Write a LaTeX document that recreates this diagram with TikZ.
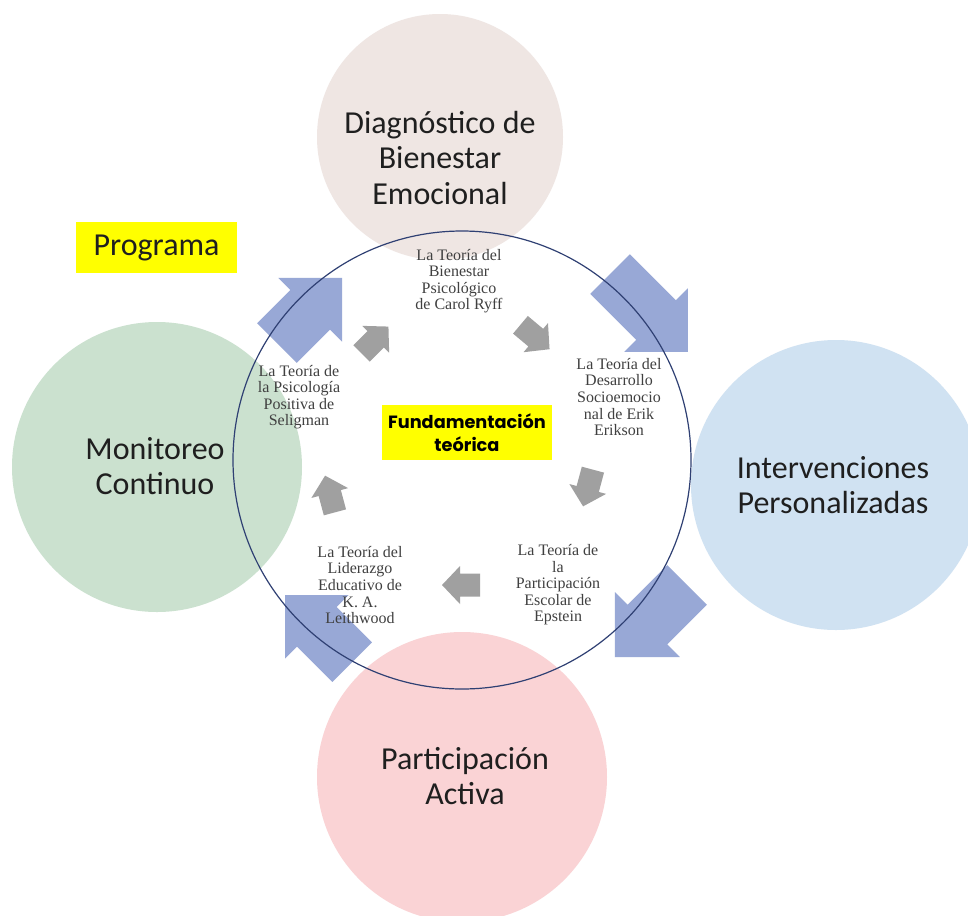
\documentclass[tikz,border=0pt]{standalone}
\usepackage{fontspec}
\setmainfont{Liberation Serif}
\newfontfamily\calib{Carlito}
\newfontfamily\gothic{Poppins}
\definecolor{beigeC}{RGB}{239,230,227}
\definecolor{greenC}{RGB}{203,225,207}
\definecolor{blueC}{RGB}{208,226,242}
\definecolor{pinkC}{RGB}{250,211,213}
\definecolor{arrBlue}{RGB}{152,168,214}
\definecolor{arrGray}{RGB}{160,160,160}
\definecolor{navyC}{RGB}{47,64,115}
\definecolor{yellowC}{RGB}{255,255,0}
% #1 x, #2 y, #3 direction (image degrees), #4 length, #5 head length, #6 head half width, #7 shaft half width, #8 fill
\newcommand\fatarrow[8]{%
  \begin{scope}[shift={(#1,#2)},rotate={-(#3)}]
    \fill[#8] ({-#4/2},{-#7}) -- ({#4/2-#5},{-#7}) -- ({#4/2-#5},{-#6}) -- ({#4/2},0)
      -- ({#4/2-#5},{#6}) -- ({#4/2-#5},{#7}) -- ({-#4/2},{#7}) -- cycle;
  \end{scope}}
\begin{document}
\begin{tikzpicture}[x=0.75pt,y=-0.75pt,
  disc/.style={circle,inner sep=0pt,minimum size=217.5pt},
  mainlbl/.style={font=\calib\fontsize{24}{26.8}\selectfont,text=black!88,align=center},
  theory/.style={font=\fontsize{12}{12.4}\selectfont,text=black!75,align=center},
  ybox/.style={fill=yellowC,inner sep=0pt}]
\useasboundingbox (0,0) rectangle (968,915);
\fill[white] (0,0) rectangle (968,915);
% coloured circles
\node[disc,fill=beigeC,minimum size=184.5pt] (cdiag) at (440,137) {};
\node[disc,fill=greenC] (cmon) at (157,467) {};
\node[disc,fill=blueC] (cint) at (836,485) {};
\node[disc,fill=pinkC] (cpar) at (462,777) {};
% big blue arrows
\fatarrow{309.5}{310.5}{-45}{92}{45}{45}{28}{arrBlue}
\fatarrow{649}{313}{45}{110}{45}{45}{28}{arrBlue}
\fatarrow{651}{621}{135}{102}{46}{46}{28}{arrBlue}
\fatarrow{318.6}{628.6}{-135}{95}{45}{45}{28}{arrBlue}
% outline circle
\node[circle,draw=navyC,line width=0.9pt,inner sep=0pt,minimum size=343.5pt] (ring) at (462,460) {};
% grey arrows
\fatarrow{375}{340}{-45}{38}{18}{19}{11.5}{arrGray}
\fatarrow{535}{337}{40}{38}{18}{19}{11.5}{arrGray}
\fatarrow{588}{488}{105}{38}{18}{19}{11.5}{arrGray}
\fatarrow{461}{585}{180}{38}{18}{19}{11.5}{arrGray}
\fatarrow{330}{494}{-105}{38}{18}{19}{11.5}{arrGray}
% main labels
\node[mainlbl] (tdiag) at (440,158) {Diagnóstico de\\Bienestar\\Emocional};
\node[mainlbl] (tmon) at (155,466) {Monitoreo\\Continuo};
\node[mainlbl] (tint) at (833,485) {Intervenciones\\Personalizadas};
\node[mainlbl] (tpar) at (465,776) {Participación\\Activa};
% yellow boxes
\node[ybox,minimum width=120.75pt,minimum height=38.25pt,font=\calib\fontsize{24}{26.8}\selectfont,text=black!88] (prog) at (156.5,247.5) {Programa};
\node[ybox,minimum width=127.5pt,minimum height=41.25pt,align=center,font=\gothic\bfseries\fontsize{13.3}{17}\selectfont] (fund) at (467,432.5) {Fundamentación\\teórica};
% theory labels
\node[theory] (ryff) at (459,281) {La Teoría del\\Bienestar\\Psicológico\\de Carol Ryff};
\node[theory] (selig) at (299,397) {La Teoría de\\la Psicología\\Positiva de\\Seligman};
\node[theory] (erik) at (619,397) {La Teoría del\\Desarrollo\\Socioemocio\\nal de Erik\\Erikson};
\node[theory] (leith) at (360,585) {La Teoría del\\Liderazgo\\Educativo de\\K. A.\\Leithwood};
\node[theory] (epst) at (558,585) {La Teoría de\\la\\Participación\\Escolar de\\Epstein};
\end{tikzpicture}
\end{document}
